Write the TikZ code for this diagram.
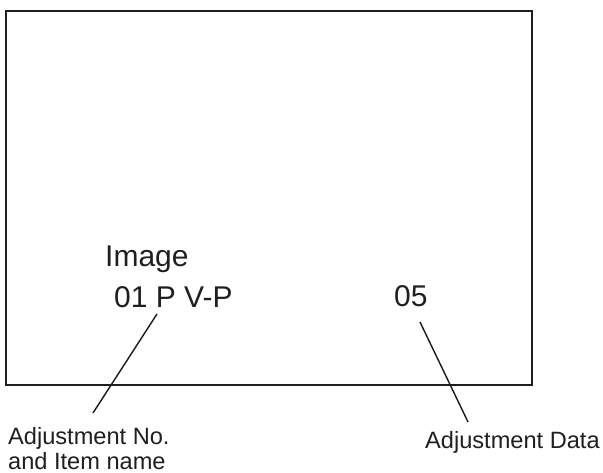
\documentclass[tikz,border=0pt]{standalone}
\usepackage{fontspec}
\setmainfont{Liberation Sans}
\begin{document}
\begin{tikzpicture}[x=1pt,y=-1pt,
  frame/.style={draw=black!88,line width=2.2pt},
  leader/.style={draw=black!90,line width=1.4pt},
  big/.style={anchor=base west,inner sep=0pt,font=\fontsize{30}{36}\selectfont,text=black!88},
  small/.style={anchor=base west,inner sep=0pt,font=\fontsize{23.6}{27}\selectfont,text=black!88}]
\useasboundingbox (0,0) rectangle (603,473);
\draw[frame] (6,11) rectangle (532,385);
\node[big] (image) at (105,267) {Image};
\node[big] (item) at (114,308) {01 P V-P};
\node[big] (data) at (394,307) {05};
\node[small] (adjno) at (8,444.5) {Adjustment No.};
\node[small] (itemname) at (8,469.5) {and Item name};
\node[small] (adjdata) at (425,448) {Adjustment Data};
\coordinate (l1a) at (157,314);
\coordinate (l1b) at (93,413);
\coordinate (l2a) at (420,322);
\coordinate (l2b) at (468,422);
\draw[leader] (l1a) -- (l1b);
\draw[leader] (l2a) -- (l2b);
\end{tikzpicture}
\end{document}
